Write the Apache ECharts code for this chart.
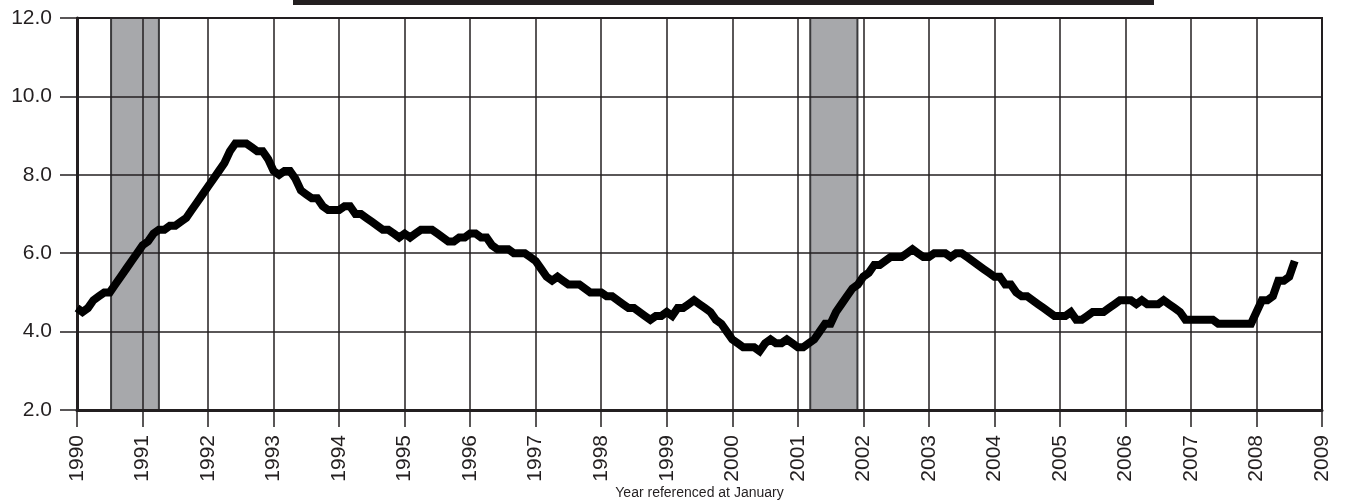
<!DOCTYPE html>
<html>
<head>
    <meta charset="utf-8">
    <title>Unemployment rate</title>
    <script src="https://cdn.jsdelivr.net/npm/echarts@6/dist/echarts.min.js"></script>
    <style>
        html, body { margin: 0; padding: 0; background: #fff; }
        #main { width: 1348px; height: 501px; }
    </style>
</head>
<body>
<div id="main"></div>
<script type="text/javascript">
// monthly rate, Jan 1990 .. Aug 2008 (one row per year)
var startYear = 1990;
var rates = [
    4.6, 4.5, 4.6, 4.8, 4.9, 5.0, 5.0, 5.2, 5.4, 5.6, 5.8, 6.0,
    6.2, 6.3, 6.5, 6.6, 6.6, 6.7, 6.7, 6.8, 6.9, 7.1, 7.3, 7.5,
    7.7, 7.9, 8.1, 8.3, 8.6, 8.8, 8.8, 8.8, 8.7, 8.6, 8.6, 8.4,
    8.1, 8.0, 8.1, 8.1, 7.9, 7.6, 7.5, 7.4, 7.4, 7.2, 7.1, 7.1,
    7.1, 7.2, 7.2, 7.0, 7.0, 6.9, 6.8, 6.7, 6.6, 6.6, 6.5, 6.4,
    6.5, 6.4, 6.5, 6.6, 6.6, 6.6, 6.5, 6.4, 6.3, 6.3, 6.4, 6.4,
    6.5, 6.5, 6.4, 6.4, 6.2, 6.1, 6.1, 6.1, 6.0, 6.0, 6.0, 5.9,
    5.8, 5.6, 5.4, 5.3, 5.4, 5.3, 5.2, 5.2, 5.2, 5.1, 5.0, 5.0,
    5.0, 4.9, 4.9, 4.8, 4.7, 4.6, 4.6, 4.5, 4.4, 4.3, 4.4, 4.4,
    4.5, 4.4, 4.6, 4.6, 4.7, 4.8, 4.7, 4.6, 4.5, 4.3, 4.2, 4.0,
    3.8, 3.7, 3.6, 3.6, 3.6, 3.5, 3.7, 3.8, 3.7, 3.7, 3.8, 3.7,
    3.6, 3.6, 3.7, 3.8, 4.0, 4.2, 4.2, 4.5, 4.7, 4.9, 5.1, 5.2,
    5.4, 5.5, 5.7, 5.7, 5.8, 5.9, 5.9, 5.9, 6.0, 6.1, 6.0, 5.9,
    5.9, 6.0, 6.0, 6.0, 5.9, 6.0, 6.0, 5.9, 5.8, 5.7, 5.6, 5.5,
    5.4, 5.4, 5.2, 5.2, 5.0, 4.9, 4.9, 4.8, 4.7, 4.6, 4.5, 4.4,
    4.4, 4.4, 4.5, 4.3, 4.3, 4.4, 4.5, 4.5, 4.5, 4.6, 4.7, 4.8,
    4.8, 4.8, 4.7, 4.8, 4.7, 4.7, 4.7, 4.8, 4.7, 4.6, 4.5, 4.3,
    4.3, 4.3, 4.3, 4.3, 4.3, 4.2, 4.2, 4.2, 4.2, 4.2, 4.2, 4.2,
    4.5, 4.8, 4.8, 4.9, 5.3, 5.3, 5.4, 5.8
];

// recession periods [start, end] in fractional years
var recessions = [
    [1990.52, 1991.25],
    [2001.19, 2001.91]
];

var yMin = 2, yMax = 12, yStep = 2;
var xMin = 1990, xMax = 2009;
var xName = 'Year referenced at January';

var ink = '#231f20';
var font = 'Liberation Sans, Arial, sans-serif';

var lineData = rates.map(function (v, i) {
    return [startYear + i / 12, v];
});

var myChart = echarts.init(document.getElementById('main'));
myChart.setOption({
    animation: false,
    backgroundColor: '#fff',
    grid: {
        left: 77, right: 26, top: 18, bottom: 91,
        outerBoundsMode: 'none',
        containLabel: false,
        show: true,
        borderColor: ink,
        borderWidth: 2,
        z: 0
    },
    graphic: [
        {
            type: 'rect',
            left: 293, top: 0,
            shape: { width: 861, height: 5 },
            style: { fill: ink }
        }
    ],
    xAxis: {
        type: 'value',
        min: xMin, max: xMax, interval: 1,
        z: 2,
        name: xName,
        nameLocation: 'middle',
        nameGap: 76,
        nameMoveOverlap: false,
        nameTextStyle: { color: ink, fontFamily: font, fontSize: 14 },
        axisLine: { onZero: false, lineStyle: { color: ink, width: 3 } },
        axisTick: { length: 17, lineStyle: { color: ink, width: 1.5 } },
        axisLabel: {
            rotate: 90, margin: 25,
            color: ink, fontFamily: font, fontSize: 21,
            showMinLabel: true, showMaxLabel: true,
            formatter: function (v) { return String(Math.round(v)); }
        },
        splitLine: { show: true, lineStyle: { color: ink, width: 1.5 } }
    },
    yAxis: {
        type: 'value',
        min: yMin, max: yMax, interval: yStep,
        z: 2,
        axisLine: { show: true, lineStyle: { color: ink, width: 3 } },
        axisTick: { show: true, length: 17, lineStyle: { color: ink, width: 1.5 } },
        axisLabel: {
            margin: 25, color: ink, fontFamily: font, fontSize: 21,
            formatter: function (v) { return v.toFixed(1); }
        },
        splitLine: { show: true, lineStyle: { color: ink, width: 1.5 } }
    },
    series: [
        {
            // shaded recession bands, kept under the grid lines
            type: 'line',
            z: 1,
            data: [],
            silent: true,
            markArea: {
                silent: true,
                itemStyle: { color: '#a7a8ab', borderColor: '#3a3a3c', borderWidth: 2 },
                data: recessions.map(function (r) {
                    return [{ xAxis: r[0], yAxis: yMin }, { xAxis: r[1], yAxis: yMax }];
                })
            }
        },
        {
            type: 'line',
            z: 3,
            data: lineData,
            symbol: 'none',
            lineStyle: { color: '#000', width: 8, join: 'miter' }
        }
    ]
});
</script>
</body>
</html>
